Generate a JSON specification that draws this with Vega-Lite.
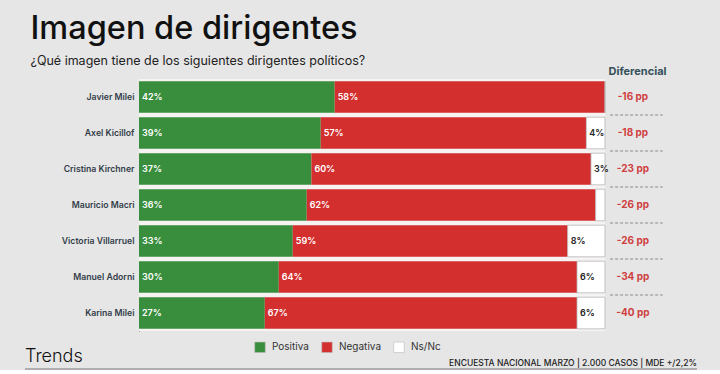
{
  "$schema": "https://vega.github.io/schema/vega-lite/v6.json",
  "background": "#e6e6e6",
  "padding": {"left": 24, "top": 12, "right": 0, "bottom": 0},
  "config": {"font": "Inter", "view": {"stroke": null}, "concat": {"spacing": 8}},
  "title": {
    "text": "Imagen de dirigentes",
    "subtitle": "¿Qué imagen tiene de los siguientes dirigentes políticos?",
    "anchor": "start",
    "fontSize": 32.5,
    "fontWeight": 500,
    "color": "#111111",
    "subtitleFontSize": 12.5,
    "subtitleColor": "#222222",
    "subtitlePadding": 9.5,
    "dx": 6,
    "offset": -2
  },
  "datasets": {
    "bars": [
      {"name": "Javier Milei", "cat": "Positiva", "orden": 1, "value": 0.42},
      {"name": "Javier Milei", "cat": "Negativa", "orden": 2, "value": 0.58},
      {"name": "Javier Milei", "cat": "Ns/Nc", "orden": 3, "value": 0.0},
      {"name": "Axel Kicillof", "cat": "Positiva", "orden": 1, "value": 0.39},
      {"name": "Axel Kicillof", "cat": "Negativa", "orden": 2, "value": 0.57},
      {"name": "Axel Kicillof", "cat": "Ns/Nc", "orden": 3, "value": 0.04},
      {"name": "Cristina Kirchner", "cat": "Positiva", "orden": 1, "value": 0.37},
      {"name": "Cristina Kirchner", "cat": "Negativa", "orden": 2, "value": 0.60},
      {"name": "Cristina Kirchner", "cat": "Ns/Nc", "orden": 3, "value": 0.03},
      {"name": "Mauricio Macri", "cat": "Positiva", "orden": 1, "value": 0.36},
      {"name": "Mauricio Macri", "cat": "Negativa", "orden": 2, "value": 0.62},
      {"name": "Mauricio Macri", "cat": "Ns/Nc", "orden": 3, "value": 0.02},
      {"name": "Victoria Villarruel", "cat": "Positiva", "orden": 1, "value": 0.33},
      {"name": "Victoria Villarruel", "cat": "Negativa", "orden": 2, "value": 0.59},
      {"name": "Victoria Villarruel", "cat": "Ns/Nc", "orden": 3, "value": 0.08},
      {"name": "Manuel Adorni", "cat": "Positiva", "orden": 1, "value": 0.30},
      {"name": "Manuel Adorni", "cat": "Negativa", "orden": 2, "value": 0.64},
      {"name": "Manuel Adorni", "cat": "Ns/Nc", "orden": 3, "value": 0.06},
      {"name": "Karina Milei", "cat": "Positiva", "orden": 1, "value": 0.27},
      {"name": "Karina Milei", "cat": "Negativa", "orden": 2, "value": 0.67},
      {"name": "Karina Milei", "cat": "Ns/Nc", "orden": 3, "value": 0.06}
    ],
    "dif": [
      {"name": "Javier Milei", "dif": -16},
      {"name": "Axel Kicillof", "dif": -18},
      {"name": "Cristina Kirchner", "dif": -23},
      {"name": "Mauricio Macri", "dif": -26},
      {"name": "Victoria Villarruel", "dif": -26},
      {"name": "Manuel Adorni", "dif": -34},
      {"name": "Karina Milei", "dif": -40}
    ]
  },
  "vconcat": [
    {
      "width": 582,
      "height": 252,
      "encoding": {
        "y": {
          "field": "name",
          "type": "nominal",
          "sort": ["Javier Milei", "Axel Kicillof", "Cristina Kirchner", "Mauricio Macri", "Victoria Villarruel", "Manuel Adorni", "Karina Milei"],
          "scale": {"paddingInner": 0, "paddingOuter": 0},
          "axis": {
            "title": null,
            "ticks": false,
            "domain": true,
            "domainColor": "#666666",
            "domainWidth": 1,
            "labelFontSize": 8.7,
            "labelFontWeight": 600,
            "labelColor": "#34404a",
            "labelPadding": 5,
            "minExtent": 114,
            "maxExtent": 114
          }
        }
      },
      "layer": [
        {
          "data": {"name": "dif"},
          "mark": {"type": "bar", "color": "#f6f3f3"},
          "encoding": {
            "x": {
              "datum": 0,
              "type": "quantitative",
              "scale": {"domain": [0, 1.249], "nice": false},
              "axis": {
                "orient": "top",
                "labels": false,
                "ticks": false,
                "domain": false,
                "grid": false,
                "title": "Diferencial",
                "titleX": 498,
                "titleAlign": "center",
                "titleFontSize": 11,
                "titleFontWeight": 700,
                "titleColor": "#35505a",
                "titlePadding": 3
              }
            },
            "x2": {"datum": 1}
          }
        },
        {
          "data": {"name": "bars"},
          "transform": [
            {"stack": "value", "groupby": ["name"], "sort": [{"field": "orden", "order": "ascending"}], "as": ["v0", "v1"]}
          ],
          "mark": {"type": "bar", "height": {"band": 0.88}},
          "encoding": {
            "x": {"field": "v0", "type": "quantitative"},
            "x2": {"field": "v1"},
            "color": {
              "field": "cat",
              "type": "nominal",
              "scale": {"domain": ["Positiva", "Negativa", "Ns/Nc"], "range": ["#388e3c", "#d32f2f", "#ffffff"]},
              "legend": {
                "title": null,
                "orient": "none",
                "direction": "horizontal",
                "legendX": 115,
                "legendY": 262,
                "symbolType": "square",
                "symbolSize": 110,
                "symbolStrokeColor": "#bbbbbb",
                "symbolStrokeWidth": 0.6,
                "labelFontSize": 10,
                "labelColor": "#333333",
                "labelOffset": 6,
                "columnPadding": 11
              }
            },
            "stroke": {
              "condition": {"test": "datum.cat === 'Ns/Nc'", "value": "#b5b5b5"},
              "value": null
            },
            "strokeWidth": {"value": 0.8}
          }
        },
        {
          "data": {"name": "bars"},
          "transform": [
            {"stack": "value", "groupby": ["name"], "sort": [{"field": "orden", "order": "ascending"}], "as": ["v0", "v1"]},
            {"filter": "datum.value > 0.025"}
          ],
          "mark": {"type": "text", "align": "left", "baseline": "middle", "dx": 3, "fontSize": 9, "fontWeight": 600},
          "encoding": {
            "x": {"field": "v0", "type": "quantitative"},
            "text": {"field": "value", "type": "quantitative", "format": ".0%"},
            "color": {
              "condition": {"test": "datum.cat === 'Ns/Nc'", "value": "#222222"},
              "value": "#ffffff"
            }
          }
        },
        {
          "data": {"name": "dif"},
          "mark": {"type": "text", "align": "center", "baseline": "middle", "fontSize": 10, "fontWeight": 700, "color": "#cf3f3f", "text": {"expr": "datum.dif + ' pp'"}},
          "encoding": {
            "x": {"datum": 1.06}
          }
        },
        {
          "data": {"name": "dif"},
          "transform": [{"filter": "datum.name !== 'Javier Milei'"}],
          "mark": {"type": "rule", "color": "#8a8a8a", "strokeDash": [3, 2], "strokeWidth": 1},
          "encoding": {
            "x": {"datum": 1.011},
            "x2": {"datum": 1.124},
            "y": {
              "field": "name",
              "type": "nominal",
              "sort": ["Javier Milei", "Axel Kicillof", "Cristina Kirchner", "Mauricio Macri", "Victoria Villarruel", "Manuel Adorni", "Karina Milei"],
              "bandPosition": 0
            }
          }
        }
      ]
    },
    {
      "width": 558,
      "height": 30,
      "data": {"values": [{}]},
      "layer": [
        {
          "mark": {"type": "text", "text": "Trends", "align": "left", "baseline": "alphabetic", "fontSize": 18, "fontWeight": 300, "color": "#111111"},
          "encoding": {
            "x": {"datum": -0.2043, "type": "quantitative", "scale": {"domain": [0, 1], "nice": false, "zero": false}, "axis": null},
            "y": {"datum": 0.23, "type": "quantitative", "scale": {"domain": [0, 1]}, "axis": null}
          }
        },
        {
          "mark": {"type": "text", "text": "ENCUESTA NACIONAL MARZO | 2.000 CASOS | MDE +/2,2%", "align": "right", "baseline": "alphabetic", "fontSize": 8.5, "fontWeight": 500, "color": "#222222"},
          "encoding": {
            "x": {"datum": 1, "type": "quantitative"},
            "y": {"datum": 0.1, "type": "quantitative"}
          }
        },
        {
          "mark": {"type": "rule", "color": "#777777", "strokeWidth": 1},
          "encoding": {
            "x": {"datum": -0.2043, "type": "quantitative"},
            "x2": {"datum": 1},
            "y": {"datum": 0, "type": "quantitative"}
          }
        }
      ]
    }
  ]
}
